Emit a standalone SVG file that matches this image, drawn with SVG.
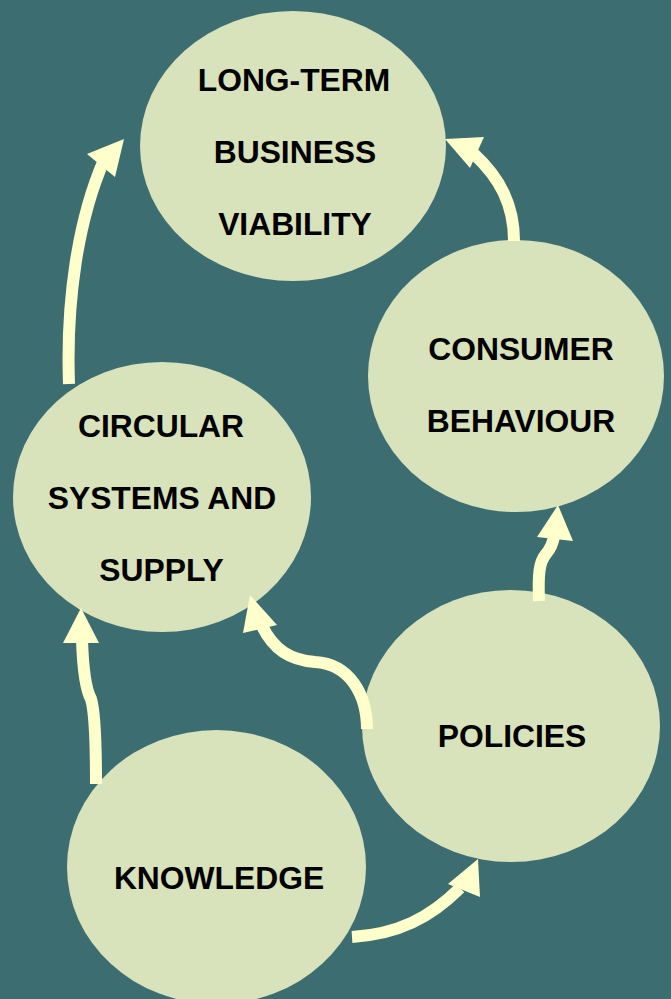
<svg xmlns="http://www.w3.org/2000/svg" width="671" height="999" viewBox="0 0 671 999">
  <style>
    .node ellipse { fill: #D8E2BB; }
    .node text { font-family: "Liberation Sans", Arial, sans-serif; font-weight: bold; font-size: 31.8px; fill: #000; text-anchor: middle; }
    .link { fill: none; stroke: #FFFFCC; stroke-width: 12; stroke-linecap: butt; stroke-linejoin: round; }
    .head { fill: #FFFFCC; }
  </style>
  <rect width="671" height="999" fill="#3C6E71"/>

  <g id="node-viability" class="node">
    <ellipse cx="293" cy="146" rx="153" ry="135"/>
    <text x="294" y="91">LONG-TERM</text>
    <text x="295" y="163">BUSINESS</text>
    <text x="295" y="235">VIABILITY</text>
  </g>

  <g id="node-consumer" class="node">
    <ellipse cx="516" cy="376" rx="148" ry="136"/>
    <text x="521" y="360">CONSUMER</text>
    <text x="521" y="432">BEHAVIOUR</text>
  </g>

  <g id="node-circular" class="node">
    <ellipse cx="162" cy="497" rx="149" ry="135"/>
    <text x="161" y="437">CIRCULAR</text>
    <text x="162" y="509">SYSTEMS AND</text>
    <text x="161.5" y="581">SUPPLY</text>
  </g>

  <g id="node-policies" class="node">
    <ellipse cx="511" cy="726" rx="149" ry="136"/>
    <text x="512" y="747">POLICIES</text>
  </g>

  <g id="node-knowledge" class="node">
    <ellipse cx="216.5" cy="867" rx="149.5" ry="137"/>
    <text x="219" y="889">KNOWLEDGE</text>
  </g>

  <g id="connectors">
    <!-- circular systems -> long-term viability -->
    <path class="link" d="M69,384 C 66,300 78,220 104,160"/>
    <polygon class="head" points="124,139 87,154 115,177"/>
    <!-- consumer behaviour -> long-term viability -->
    <path class="link" d="M514,241 C 514,205 500,178 474,154"/>
    <polygon class="head" points="445,139 484,137 470,168"/>
    <!-- policies -> consumer behaviour -->
    <path class="link" d="M539,601 C 538,575 539,562 546,554 C 551,548 553,544 554,536"/>
    <polygon class="head" points="558,505 537,537 573,541"/>
    <!-- policies -> circular systems -->
    <path class="link" d="M367,729 C 367,695 350,664 315,662 C 290,660 274,650 262,626"/>
    <polygon class="head" points="250,595 243,633 277,625"/>
    <!-- knowledge -> circular systems -->
    <path class="link" d="M96,784 C 96,745 95,712 91,699 C 86,690 83,670 82,640"/>
    <polygon class="head" points="81,608 63,643 99,643"/>
    <!-- knowledge -> policies -->
    <path class="link" d="M352,937 C 398,934 430,918 460,888"/>
    <polygon class="head" points="478,859 448,884 480,897"/>
  </g>
</svg>
